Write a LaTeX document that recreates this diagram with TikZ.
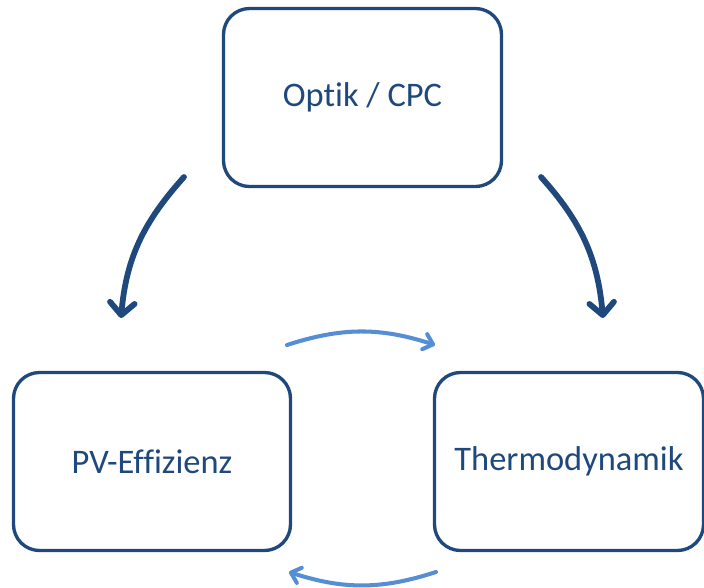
\documentclass[tikz,border=0pt]{standalone}
\usepackage{fontspec}
\setsansfont{Carlito}[Ligatures=CommonOff]
\usepackage{tikz}
\usetikzlibrary{arrows.meta,positioning}
\definecolor{boxblue}{RGB}{31,73,125}
\definecolor{lightblue}{RGB}{85,142,213}
\tikzset{
    topic box/.style={
        draw=boxblue,line width=1.9pt,rounded corners=0.52cm,
        fill=white,text=boxblue,
        minimum height=3.56cm,
        font=\sffamily\fontsize{19.6}{23}\selectfont
    },
    main arrow/.style={
        boxblue,line width=3.3pt,line cap=round,
        -{Straight Barb[length=7pt,width=14pt,round]}
    },
    feedback arrow/.style={
        lightblue,line width=2.3pt,line cap=round,
        -{Straight Barb[length=5pt,width=9pt,round]}
    }
}

\begin{document}
\begin{tikzpicture}
\useasboundingbox (0,0) rectangle (14.08,-11.74);
\node[topic box,minimum width=5.56cm] (optik) at (7.25,-1.95) {Optik / CPC};
\node[topic box,minimum width=5.54cm] (pv) at (3.04,-9.23) {PV-Effizienz};
\node[topic box,minimum width=5.38cm] (thermo) at (11.38,-9.23) {Thermodynamik};
% connectors
\coordinate (l_start) at (3.68,-3.54);
\coordinate (l_end) at (2.42,-6.36);
\coordinate (r_start) at (10.82,-3.54);
\coordinate (r_end) at (12.06,-6.36);
\coordinate (t_start) at (5.74,-6.9);
\coordinate (t_end) at (8.70,-6.9);
\coordinate (b_start) at (8.72,-11.44);
\coordinate (b_end) at (5.78,-11.44);
\draw[main arrow] (l_start) to[out=228,in=85] (l_end);
\draw[main arrow] (r_start) to[out=-48,in=95] (r_end);
\draw[feedback arrow] (t_start) to[bend left=18] (t_end);
\draw[feedback arrow] (b_start) to[bend left=18] (b_end);
\end{tikzpicture}
\end{document}
